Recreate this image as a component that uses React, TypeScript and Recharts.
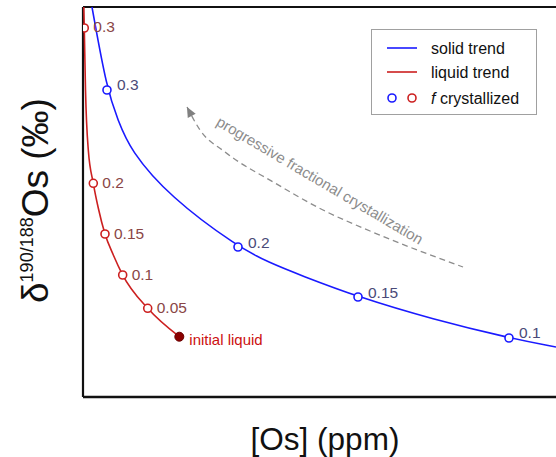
import { ComposedChart, Line, Scatter, XAxis, YAxis, ReferenceLine } from "recharts"

// curves (arbitrary units, 0-100 on both axes)
const solidCurveX = [1.9, 5.07, 7.4, 9.94, 18.39, 32.77, 39.53, 45.88, 58.14, 74.0, 90.06, 100]
const solidCurveY = [100, 78.72, 71.03, 63.33, 51.28, 38.46, 34.36, 31.28, 25.64, 19.9, 15.13, 12.82]

const liquidCurveX = [0.17, 0.27, 0.53, 1.12, 2.18, 3.23, 4.65, 6.41, 8.39, 13.68, 20.36]
const liquidCurveY = [100, 94.62, 78.72, 63.33, 54.79, 48.46, 41.79, 36.41, 31.28, 22.74, 15.46]

// f crystallized markers
const solidF = [0.3, 0.2, 0.15, 0.1]
const solidFX = [5.07, 32.77, 58.14, 90.06]
const solidFY = [78.72, 38.46, 25.64, 15.13]

const liquidF = [0.3, 0.2, 0.15, 0.1, 0.05]
const liquidFX = [0.27, 2.18, 4.65, 8.39, 13.68]
const liquidFY = [94.62, 54.79, 41.79, 31.28, 22.74]

const initialX = [20.36]
const initialY = [15.46]

// dashed arrow, tip first
const arrowX = [21.99, 24.74, 30.02, 40.59, 50.74, 60.68, 80.34]
const arrowY = [74.36, 68.46, 62.82, 54.87, 47.95, 42.56, 33.33]

const noteX = [50.1]
const noteY = [55.6]
const noteText = "progressive fractional crystallization"

const zip = (xs: number[], ys: number[]) => xs.map((x, i) => ({ x, y: ys[i] }))

const solidCurve = zip(solidCurveX, solidCurveY)
const liquidCurve = zip(liquidCurveX, liquidCurveY)
const solidPts = solidF.map((f, i) => ({ f, x: solidFX[i], y: solidFY[i] }))
const liquidPts = liquidF.map((f, i) => ({ f, x: liquidFX[i], y: liquidFY[i] }))
const initialPt = zip(initialX, initialY)
const arrowLine = zip(arrowX, arrowY)
const arrowTip = [arrowLine[0]]
const notePt = zip(noteX, noteY)

const BLUE = "#1a1aff"
const RED = "#cc2020"
const FONT = "'Liberation Sans', Arial, sans-serif"

const solidDot = (p: any) => (
  <g>
    <circle cx={p.cx} cy={p.cy} r={4} fill="#fff" stroke={BLUE} strokeWidth={1.6} />
    <text x={p.cx + 10} y={p.cy - 5} fontSize={15.5} fill="#4a4a78" dominantBaseline="central" fontFamily={FONT}>
      {p.payload.f}
    </text>
  </g>
)

const liquidDot = (p: any) => (
  <g>
    <circle cx={p.cx} cy={p.cy} r={4} fill="#fff" stroke={RED} strokeWidth={1.6} />
    <text x={p.cx + 9} y={p.cy - 1} fontSize={15.5} fill="#8a4646" dominantBaseline="central" fontFamily={FONT}>
      {p.payload.f}
    </text>
  </g>
)

const initialDot = (p: any) => (
  <g>
    <circle cx={p.cx} cy={p.cy} r={4.5} fill="#8b0000" stroke="#6a0000" strokeWidth={1} />
    <text x={p.cx + 10} y={p.cy + 3} fontSize={15} fill="#cc1010" dominantBaseline="central" fontFamily={FONT}>
      initial liquid
    </text>
  </g>
)

const arrowHead = (p: any) => (
  <polygon
    points="0,0 -10,-4.5 -10,4.5"
    fill="#808080"
    transform={`translate(${p.cx},${p.cy}) rotate(-118)`}
  />
)

const noteLabel = (p: any) => (
  <text
    x={p.cx}
    y={p.cy}
    fontSize={15}
    fill="#8c8c8c"
    textAnchor="middle"
    dominantBaseline="central"
    fontFamily={FONT}
    transform={`rotate(30.5, ${p.cx}, ${p.cy})`}
  >
    {noteText}
  </text>
)

export default function App() {
  return (
    <div style={{ position: "absolute", left: 0, top: 0, width: 556, height: 457, background: "#fff" }}>
      <ComposedChart width={556} height={457} margin={{ top: 7, right: 0, left: 83, bottom: 60 }}>
        <XAxis type="number" dataKey="x" domain={[0, 100]} hide allowDataOverflow />
        <YAxis type="number" dataKey="y" domain={[0, 100]} hide allowDataOverflow />
        <ReferenceLine x={0} stroke="#111" strokeWidth={2.2} />
        <ReferenceLine y={100} stroke="#111" strokeWidth={2.2} />
        <ReferenceLine y={0} stroke="#111" strokeWidth={2.6} />
        <Line data={arrowLine} dataKey="y" type="monotone" stroke="#8c8c8c" strokeWidth={1.3} strokeDasharray="6 4" dot={false} isAnimationActive={false} />
        <Line data={solidCurve} dataKey="y" type="basis" stroke={BLUE} strokeWidth={1.6} dot={false} isAnimationActive={false} />
        <Line data={liquidCurve} dataKey="y" type="monotone" stroke={RED} strokeWidth={1.6} dot={false} isAnimationActive={false} />
        <Scatter data={arrowTip} dataKey="y" shape={arrowHead} isAnimationActive={false} />
        <Scatter data={notePt} dataKey="y" shape={noteLabel} isAnimationActive={false} />
        <Scatter data={solidPts} dataKey="y" shape={solidDot} isAnimationActive={false} />
        <Scatter data={liquidPts} dataKey="y" shape={liquidDot} isAnimationActive={false} />
        <Scatter data={initialPt} dataKey="y" shape={initialDot} isAnimationActive={false} />
      </ComposedChart>
      <svg width={556} height={457} style={{ position: "absolute", left: 0, top: 0, pointerEvents: "none" }} fontFamily={FONT}>
        {/* legend */}
        <rect x={371.5} y={29.5} width={165} height={85} fill="#fff" stroke="#a0a0a0" strokeWidth={1} />
        <line x1={387} x2={417} y1={48} y2={48} stroke={BLUE} strokeWidth={1.6} />
        <line x1={387} x2={417} y1={72} y2={72} stroke={RED} strokeWidth={1.6} />
        <circle cx={392} cy={98} r={4} fill="#fff" stroke={BLUE} strokeWidth={1.6} />
        <circle cx={412} cy={98} r={4} fill="#fff" stroke={RED} strokeWidth={1.6} />
        <text x={431} y={48} fontSize={16} dominantBaseline="central" fill="#111">solid trend</text>
        <text x={431} y={72} fontSize={16} dominantBaseline="central" fill="#111">liquid trend</text>
        <text x={431} y={98} fontSize={16} dominantBaseline="central" fill="#111">
          <tspan fontStyle="italic">f</tspan> crystallized
        </text>
        {/* axis titles */}
        <text x={325} y={450} fontSize={31.5} textAnchor="middle" fill="#111">[Os] (ppm)</text>
        <text transform="translate(48,303) rotate(-90)" fontSize={37} fill="#111">
          δ<tspan fontSize={18} dy={-15}>190/188</tspan>
          <tspan dy={15}>Os (‰)</tspan>
        </text>
      </svg>
    </div>
  )
}
